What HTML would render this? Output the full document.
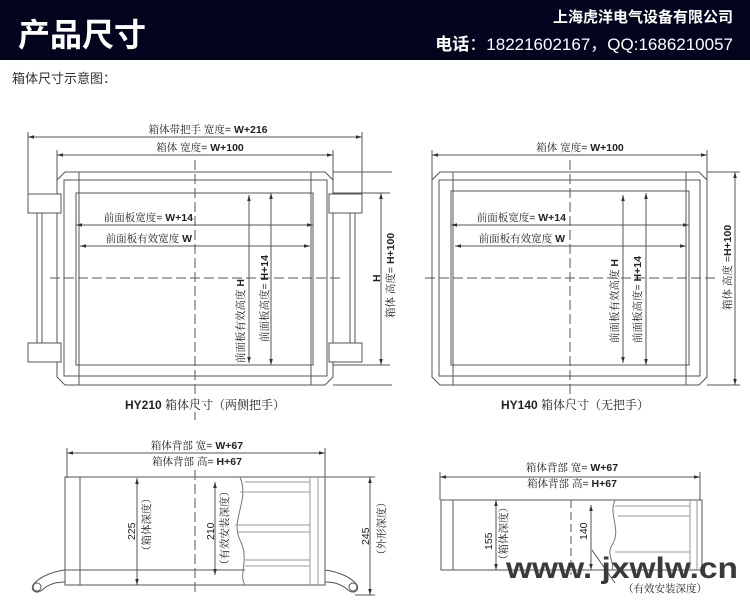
<!DOCTYPE html>
<html><head><meta charset="utf-8"><style>
body{margin:0;width:750px;height:610px;overflow:hidden;background:#fff;font-family:"Liberation Sans","Noto Sans CJK SC",sans-serif}
</style></head><body>
<svg width="750" height="610" viewBox="0 0 750 610" xmlns="http://www.w3.org/2000/svg" font-family="Liberation Sans, Noto Sans CJK SC, sans-serif">
<defs>
<marker id="a" viewBox="0 0 10 10" refX="10" refY="5" markerWidth="6" markerHeight="6" orient="auto-start-reverse"><path d="M0,2 L10,5 L0,8z" fill="#333"/></marker>
</defs>
<rect x="0" y="0" width="750" height="60" fill="#03051f"/>
<text x="18" y="46" fill="#fff" font-size="32" font-weight="bold" font-family="Noto Sans CJK SC, sans-serif">产品尺寸</text>
<text x="733" y="22" fill="#fff" font-size="15" font-weight="bold" text-anchor="end" font-family="Noto Sans CJK SC, sans-serif">上海虎洋电气设备有限公司</text>
<text x="733" y="50" fill="#fff" font-size="17" text-anchor="end"><tspan font-weight="bold">电话</tspan>：18221602167，QQ:1686210057</text>
<text x="12" y="83" fill="#333" font-size="13" font-family="Noto Sans CJK SC, sans-serif">箱体尺寸示意图：</text>

<g stroke="#555" stroke-width="1" fill="none">
<!-- LEFT FRONT -->
<line x1="28" y1="137" x2="362" y2="137" marker-start="url(#a)" marker-end="url(#a)"/>
<line x1="28" y1="132" x2="28" y2="195"/><line x1="362" y1="132" x2="362" y2="195"/>
<line x1="57" y1="155" x2="333" y2="155" marker-start="url(#a)" marker-end="url(#a)"/>
<line x1="57" y1="150" x2="57" y2="185"/><line x1="333" y1="150" x2="333" y2="185"/>
<path d="M65,172 L325,172 L333,180 L333,377 L325,385 L65,385 L57,377 L57,180Z"/>
<rect x="64" y="180" width="263" height="196"/>
<rect x="76" y="193" width="237" height="172"/>
<line x1="79" y1="172" x2="79" y2="385"/><line x1="311" y1="172" x2="311" y2="385"/>
<rect x="28" y="194" width="33" height="19" fill="#fff"/><rect x="28" y="343" width="33" height="19" fill="#fff"/>
<line x1="37" y1="213" x2="37" y2="343"/><line x1="42" y1="213" x2="42" y2="343"/>
<rect x="329" y="194" width="33" height="19" fill="#fff"/><rect x="329" y="343" width="33" height="19" fill="#fff"/>
<line x1="350" y1="213" x2="350" y2="343"/><line x1="355" y1="213" x2="355" y2="343"/>
<line x1="76" y1="225" x2="313" y2="225" marker-start="url(#a)" marker-end="url(#a)"/>
<line x1="80" y1="246" x2="310" y2="246" marker-start="url(#a)" marker-end="url(#a)"/>
<line x1="249" y1="195" x2="249" y2="363" marker-start="url(#a)" marker-end="url(#a)"/>
<line x1="271" y1="193" x2="271" y2="365" marker-start="url(#a)" marker-end="url(#a)"/>
<line x1="381" y1="193" x2="381" y2="365" marker-start="url(#a)" marker-end="url(#a)"/>
<line x1="333" y1="193" x2="390" y2="193"/><line x1="333" y1="365" x2="390" y2="365"/>
<line x1="333" y1="172" x2="392" y2="172"/><line x1="333" y1="385" x2="392" y2="385"/>
<line x1="195" y1="160" x2="195" y2="420" stroke-dasharray="10,4"/>
<line x1="50" y1="278" x2="340" y2="278" stroke-dasharray="10,4"/>

<!-- RIGHT FRONT -->
<line x1="432" y1="155" x2="707" y2="155" marker-start="url(#a)" marker-end="url(#a)"/>
<line x1="432" y1="150" x2="432" y2="180"/><line x1="707" y1="150" x2="707" y2="180"/>
<path d="M440,172 L699,172 L707,180 L707,377 L699,385 L440,385 L432,377 L432,180Z"/>
<rect x="439" y="180" width="261" height="196"/>
<rect x="451" y="191" width="238" height="174"/>
<line x1="453" y1="172" x2="453" y2="385"/><line x1="686" y1="172" x2="686" y2="385"/>
<line x1="451" y1="225" x2="689" y2="225" marker-start="url(#a)" marker-end="url(#a)"/>
<line x1="455" y1="246" x2="686" y2="246" marker-start="url(#a)" marker-end="url(#a)"/>
<line x1="623" y1="195" x2="623" y2="363" marker-start="url(#a)" marker-end="url(#a)"/>
<line x1="646" y1="193" x2="646" y2="365" marker-start="url(#a)" marker-end="url(#a)"/>
<line x1="735" y1="172" x2="735" y2="385" marker-start="url(#a)" marker-end="url(#a)"/>
<line x1="707" y1="172" x2="740" y2="172"/><line x1="707" y1="385" x2="740" y2="385"/>
<line x1="570" y1="160" x2="570" y2="400" stroke-dasharray="10,4"/>
<line x1="425" y1="278" x2="715" y2="278" stroke-dasharray="10,4"/>

<!-- BOTTOM LEFT -->
<line x1="67" y1="453" x2="325" y2="453" marker-start="url(#a)" marker-end="url(#a)"/>
<line x1="67" y1="448" x2="67" y2="478"/><line x1="325" y1="448" x2="325" y2="478"/>
<rect x="65" y="477" width="260" height="108"/>
<rect x="65" y="477" width="15" height="108"/>
<line x1="65" y1="570" x2="245" y2="570"/>
<path d="M240,477 C250,500 230,520 240,540 C250,560 238,575 245,585" stroke="#777"/>
<g stroke="#999"><line x1="245" y1="482" x2="310" y2="482"/><line x1="240" y1="492" x2="310" y2="492"/><line x1="235" y1="525" x2="310" y2="525"/><line x1="238" y1="532" x2="310" y2="532"/><line x1="245" y1="560" x2="310" y2="560"/><line x1="245" y1="566" x2="310" y2="566"/><line x1="310" y1="477" x2="310" y2="585"/><line x1="318" y1="477" x2="318" y2="585"/></g>
<path d="M65,570 C50,572 38,578 33,585 C30,592 38,594 42,590 C50,583 58,582 65,582"/>
<circle cx="37" cy="587" r="4"/>
<path d="M325,570 C340,572 352,578 357,585 C360,592 352,594 348,590 C340,583 332,582 325,582"/>
<circle cx="353" cy="587" r="4"/>
<line x1="195" y1="470" x2="195" y2="592" stroke-dasharray="10,4"/>
<line x1="137" y1="478" x2="137" y2="585" marker-start="url(#a)" marker-end="url(#a)"/>
<line x1="215" y1="482" x2="215" y2="575" marker-start="url(#a)" marker-end="url(#a)"/>
<line x1="370" y1="477" x2="370" y2="595" marker-start="url(#a)" marker-end="url(#a)"/>
<line x1="325" y1="477" x2="375" y2="477"/><line x1="355" y1="595" x2="375" y2="595"/>

<!-- BOTTOM RIGHT -->
<line x1="440" y1="477" x2="700" y2="477" marker-start="url(#a)" marker-end="url(#a)"/>
<line x1="440" y1="472" x2="440" y2="500"/><line x1="700" y1="472" x2="700" y2="500"/>
<rect x="441" y="500" width="261" height="70"/>
<rect x="441" y="500" width="12" height="70"/>
<path d="M615,500 C608,515 622,530 612,545 C606,555 615,562 612,570" stroke="#777"/>
<g stroke="#999"><line x1="615" y1="506" x2="690" y2="506"/><line x1="618" y1="516" x2="690" y2="516"/><line x1="615" y1="552" x2="690" y2="552"/><line x1="690" y1="500" x2="690" y2="570"/><line x1="697" y1="500" x2="697" y2="570"/></g>
<line x1="571" y1="500" x2="571" y2="575" stroke-dasharray="8,4"/>
<line x1="496" y1="500" x2="496" y2="570" marker-start="url(#a)" marker-end="url(#a)"/>
<line x1="591" y1="505" x2="591" y2="570" marker-start="url(#a)" marker-end="url(#a)"/>
<line x1="592" y1="550" x2="615" y2="583"/>
</g>

<g fill="#222" font-size="10.5" font-family="Liberation Sans, Noto Serif CJK SC, sans-serif">
<text x="208" y="133" text-anchor="middle">箱体带把手 宽度= <tspan font-weight="bold">W+216</tspan></text>
<text x="200" y="151" text-anchor="middle">箱体 宽度= <tspan font-weight="bold">W+100</tspan></text>
<text x="193" y="221" text-anchor="end">前面板宽度= <tspan font-weight="bold">W+14</tspan></text>
<text x="192" y="242" text-anchor="end">前面板有效宽度 <tspan font-weight="bold">W</tspan></text>
<text transform="translate(244,363) rotate(-90)">前面板有效高度 <tspan font-weight="bold">H</tspan></text>
<text transform="translate(268,342) rotate(-90)">前面板高度= <tspan font-weight="bold">H+14</tspan></text>
<text transform="translate(380,282) rotate(-90)" font-weight="bold">H</text>
<text transform="translate(394,318) rotate(-90)">箱体 高度= <tspan font-weight="bold">H+100</tspan></text>
<text x="205" y="409" text-anchor="middle" font-size="12"><tspan font-weight="bold">HY210</tspan> 箱体尺寸（两侧把手）</text>

<text x="580" y="151" text-anchor="middle">箱体 宽度= <tspan font-weight="bold">W+100</tspan></text>
<text x="566" y="221" text-anchor="end">前面板宽度= <tspan font-weight="bold">W+14</tspan></text>
<text x="565" y="242" text-anchor="end">前面板有效宽度 <tspan font-weight="bold">W</tspan></text>
<text transform="translate(618,343) rotate(-90)">前面板有效高度 <tspan font-weight="bold">H</tspan></text>
<text transform="translate(641,343) rotate(-90)">前面板高度= <tspan font-weight="bold">H+14</tspan></text>
<text transform="translate(731,310) rotate(-90)">箱体 高度 =<tspan font-weight="bold">H+100</tspan></text>
<text x="575" y="409" text-anchor="middle" font-size="12"><tspan font-weight="bold">HY140</tspan> 箱体尺寸（无把手）</text>

<text x="197" y="449" text-anchor="middle">箱体背部 宽= <tspan font-weight="bold">W+67</tspan></text>
<text x="197" y="465" text-anchor="middle">箱体背部 高= <tspan font-weight="bold">H+67</tspan></text>
<text transform="translate(135,540) rotate(-90)">225</text>
<text transform="translate(150,556) rotate(-90)">（箱体深度）</text>
<text transform="translate(214,540) rotate(-90)">210</text>
<text transform="translate(228,570) rotate(-90)">（有效安装深度）</text>
<text transform="translate(369,545) rotate(-90)">245</text>
<text transform="translate(385,560) rotate(-90)">（外形深度）</text>

<text x="572" y="471" text-anchor="middle">箱体背部 宽= <tspan font-weight="bold">W+67</tspan></text>
<text x="572" y="487" text-anchor="middle">箱体背部 高= <tspan font-weight="bold">H+67</tspan></text>
<text transform="translate(492,550) rotate(-90)">155</text>
<text transform="translate(507,565) rotate(-90)">（箱体深度）</text>
<text transform="translate(587,540) rotate(-90)">140</text>
<text x="665" y="592" text-anchor="middle">（有效安装深度）</text>
</g>
<text x="506" y="578" font-size="30" font-weight="bold" fill="#3a3a3a" textLength="232" lengthAdjust="spacingAndGlyphs">www. jxwlw.cn</text>
</svg>
</body></html>
